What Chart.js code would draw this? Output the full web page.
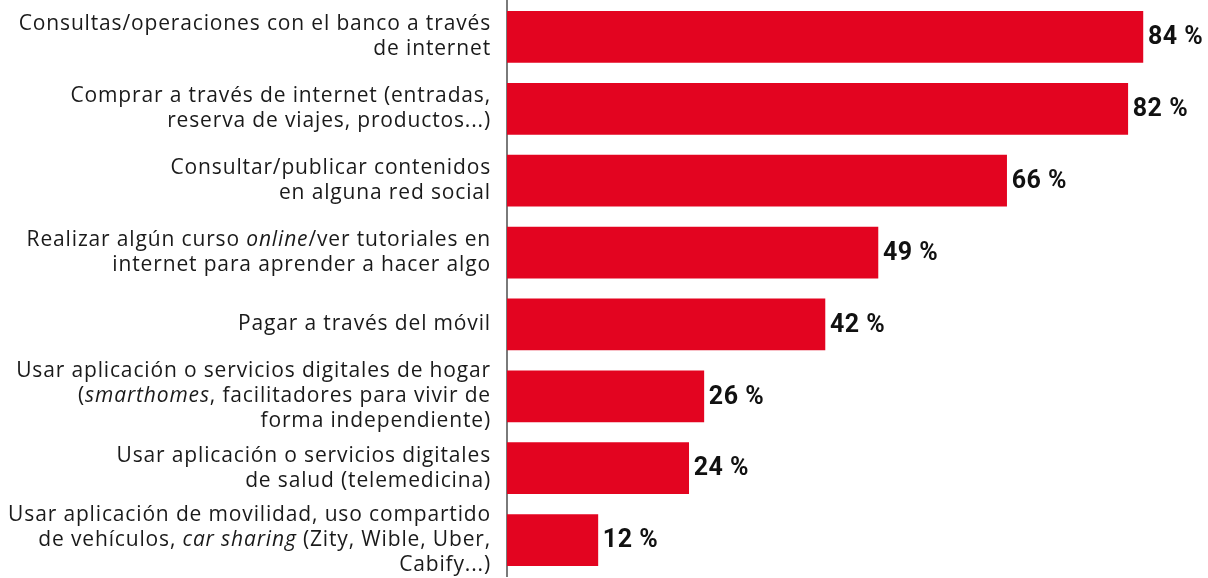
<!DOCTYPE html>
<html>
<head>
<meta charset="utf-8">
<script src="https://cdn.jsdelivr.net/npm/chart.js@4"></script>
<style>
  html, body { margin: 0; padding: 0; background: #fff; }
  #wrap { width: 1208px; height: 578px; }
</style>
</head>
<body>
<div id="wrap"><canvas id="chart"></canvas></div>
<script>
// each label line is a list of [text, italic] pieces
const categories = [
    [[['Consultas/operaciones con el banco a través', false]], [['de internet', false]]],
    [[['Comprar a través de internet (entradas,', false]], [['reserva de viajes, productos...)', false]]],
    [[['Consultar/publicar contenidos', false]], [['en alguna red social', false]]],
    [[['Realizar algún curso ', false], ['online', true], ['/ver tutoriales en', false]], [['internet para aprender a hacer algo', false]]],
    [[['Pagar a través del móvil', false]]],
    [[['Usar aplicación o servicios digitales de hogar', false]], [['(', false], ['smarthomes', true], [', facilitadores para vivir de', false]], [['forma independiente)', false]]],
    [[['Usar aplicación o servicios digitales', false]], [['de salud (telemedicina)', false]]],
    [[['Usar aplicación de movilidad, uso compartido', false]], [['de vehículos, ', false], ['car sharing', true], [' (Zity, Wible, Uber,', false]], [['Cabify...)', false]]]
];
const values = [84, 82, 66, 49, 42, 26, 24, 12];

const labelFont = '"Open Sans", sans-serif';
const valueFont = 'Roboto, sans-serif';

const labelPlugin = {
    id: 'labelPlugin',
    afterDraw(chart) {
        const ctx = chart.ctx;
        const y = chart.scales.y;
        const right = 491;
        const lineH = 25;
        ctx.save();
        ctx.fillStyle = '#1a1a1a';
        ctx.textBaseline = 'middle';
        ctx.textAlign = 'left';
        ctx.letterSpacing = '0.85px';
        categories.forEach((lines, i) => {
            const cy = y.getPixelForValue(i);
            const top = cy - (lines.length - 1) * lineH / 2;
            lines.forEach((pieces, j) => {
                let w = 0;
                pieces.forEach(p => {
                    ctx.font = (p[1] ? 'italic ' : '') + '21px ' + labelFont;
                    w += ctx.measureText(p[0]).width;
                });
                let x = right - w;
                pieces.forEach(p => {
                    ctx.font = (p[1] ? 'italic ' : '') + '21px ' + labelFont;
                    ctx.fillText(p[0], x, top + j * lineH);
                    x += ctx.measureText(p[0]).width;
                });
            });
        });

        // value labels
        const meta = chart.getDatasetMeta(0);
        ctx.font = 'bold 25px ' + valueFont;
        ctx.letterSpacing = '0.5px';
        ctx.fillStyle = '#111';
        meta.data.forEach((bar, i) => {
            ctx.fillText(values[i] + ' %', bar.x + 5, bar.y + 1);
        });
        ctx.restore();
    }
};

new Chart(document.getElementById('chart'), {
    type: 'bar',
    data: {
        labels: categories.map((c, i) => i),
        datasets: [{
            data: values,
            backgroundColor: '#e30420',
            barThickness: 51
        }]
    },
    options: {
        indexAxis: 'y',
        responsive: true,
        maintainAspectRatio: false,
        animation: false,
        layout: { padding: { top: 1, bottom: 2, left: 0, right: 0 } },
        scales: {
            x: {
                display: false,
                min: 0,
                max: 92.6
            },
            y: {
                grid: { display: false },
                border: { display: true, color: '#7a7a7a', width: 2 },
                ticks: { display: false },
                afterFit(scale) { scale.width = 507; }
            }
        },
        plugins: {
            legend: { display: false },
            tooltip: { enabled: false }
        }
    },
    plugins: [labelPlugin]
});
</script>
</body>
</html>
